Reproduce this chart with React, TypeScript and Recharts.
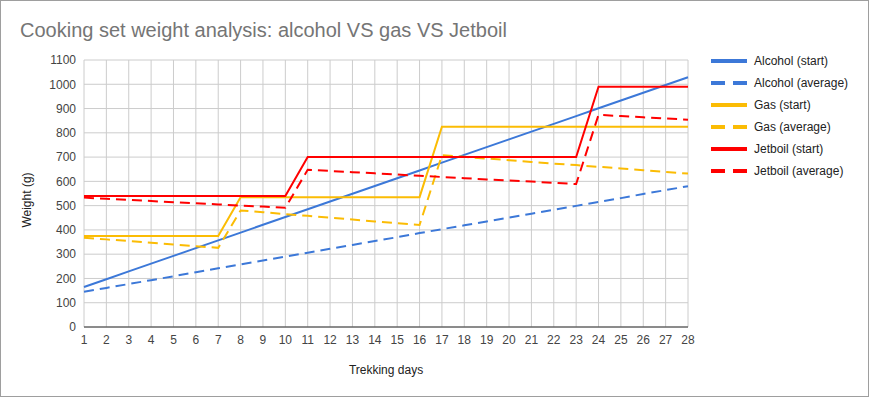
import React from "react"
import {
  LineChart,
  Line,
  XAxis,
  YAxis,
  CartesianGrid,
  Label,
} from "recharts"

const days = [1, 2, 3, 4, 5, 6, 7, 8, 9, 10, 11, 12, 13, 14, 15, 16, 17, 18, 19, 20, 21, 22, 23, 24, 25, 26, 27, 28]

const alcoholStart = [165, 197, 229, 261, 293, 325, 357, 389, 421, 453, 485, 517, 549, 581, 613, 645, 677, 709, 741, 773, 805, 837, 869, 901, 933, 965, 997, 1029]
const alcoholAvg = [145, 161, 177, 193, 209, 226, 242, 258, 274, 290, 306, 322, 338, 354, 370, 387, 403, 419, 435, 451, 467, 483, 499, 515, 531, 548, 564, 580]
const gasStart = [375, 375, 375, 375, 375, 375, 375, 535, 535, 535, 535, 535, 535, 535, 535, 535, 825, 825, 825, 825, 825, 825, 825, 825, 825, 825, 825, 825]
const gasAvg = [368, 361, 354, 347, 340, 333, 326, 480, 473, 465, 458, 450, 443, 435, 428, 420, 708, 701, 694, 687, 680, 673, 667, 660, 653, 646, 639, 632]
const jetStart = [540, 540, 540, 540, 540, 540, 540, 540, 540, 540, 700, 700, 700, 700, 700, 700, 700, 700, 700, 700, 700, 700, 700, 990, 990, 990, 990, 990]
const jetAvg = [533, 528, 524, 519, 514, 510, 505, 500, 496, 491, 648, 643, 638, 633, 628, 623, 618, 613, 608, 604, 599, 594, 589, 874, 869, 864, 859, 854]

const yTicks = [0, 100, 200, 300, 400, 500, 600, 700, 800, 900, 1000, 1100]

const BLUE = "#3c78d8"
const YELLOW = "#fbbc04"
const RED = "#ff0000"

const series = [
  { key: "alcoholStart", name: "Alcohol (start)", color: BLUE, dashed: false },
  { key: "alcoholAvg", name: "Alcohol (average)", color: BLUE, dashed: true },
  { key: "gasStart", name: "Gas (start)", color: YELLOW, dashed: false },
  { key: "gasAvg", name: "Gas (average)", color: YELLOW, dashed: true },
  { key: "jetStart", name: "Jetboil (start)", color: RED, dashed: false },
  { key: "jetAvg", name: "Jetboil (average)", color: RED, dashed: true },
]

const data = days.map((day, i) => ({
  day,
  alcoholStart: alcoholStart[i],
  alcoholAvg: alcoholAvg[i],
  gasStart: gasStart[i],
  gasAvg: gasAvg[i],
  jetStart: jetStart[i],
  jetAvg: jetAvg[i],
}))

const font = "'Liberation Sans', Arial, sans-serif"
const tickStyle = { fontSize: 12, fill: "#444", fontFamily: font }

export default function App() {
  return (
    <div
      style={{
        position: "absolute",
        left: 0,
        top: 0,
        width: 869,
        height: 397,
        border: "1px solid #9e9e9e",
        boxSizing: "border-box",
        background: "#fff",
        fontFamily: font,
      }}
    >
      <div
        style={{
          position: "absolute",
          left: 19,
          top: 19,
          fontSize: 20,
          lineHeight: "20px",
          color: "#757575",
          whiteSpace: "nowrap",
        }}
      >
        Cooking set weight analysis: alcohol VS gas VS Jetboil
      </div>

      <LineChart
        width={867}
        height={395}
        data={data}
        margin={{ top: 59, right: 180, bottom: 0, left: 0 }}
      >
        <CartesianGrid stroke="#cccccc" strokeWidth={1} />
        <XAxis
          dataKey="day"
          type="number"
          domain={[1, 28]}
          ticks={days}
          interval={0}
          height={69}
          tickLine={false}
          axisLine={{ stroke: "#333" }}
          tick={tickStyle}
        >
          <Label
            value="Trekking days"
            position="insideBottom"
            offset={22}
            style={{ fontSize: 12, fill: "#222", fontFamily: font }}
          />
        </XAxis>
        <YAxis
          type="number"
          domain={[0, 1100]}
          ticks={yTicks}
          interval={0}
          width={83}
          tickLine={false}
          axisLine={false}
          tick={tickStyle}
        >
          <Label
            content={() => (
              <text
                x={30}
                y={199}
                transform="rotate(-90 30 199)"
                textAnchor="middle"
                style={{ fontSize: 12, fill: "#222", fontFamily: font }}
              >
                Weight (g)
              </text>
            )}
          />
        </YAxis>
        {series.map((s) => (
          <Line
            key={s.key}
            type="linear"
            dataKey={s.key}
            name={s.name}
            stroke={s.color}
            strokeWidth={2}
            strokeDasharray={s.dashed ? "10 6" : undefined}
            dot={false}
            activeDot={false}
            isAnimationActive={false}
          />
        ))}
      </LineChart>

      <div style={{ position: "absolute", left: 710, top: 49 }}>
        {series.map((s) => (
          <div
            key={s.key}
            style={{ display: "flex", alignItems: "center", height: 22 }}
          >
            <svg width={36} height={6} style={{ marginRight: 7 }}>
              <line
                x1={0}
                y1={3}
                x2={36}
                y2={3}
                stroke={s.color}
                strokeWidth={4}
                strokeDasharray={s.dashed ? "14 8" : undefined}
              />
            </svg>
            <span style={{ fontSize: 12, color: "#222", whiteSpace: "nowrap" }}>
              {s.name}
            </span>
          </div>
        ))}
      </div>
    </div>
  )
}
